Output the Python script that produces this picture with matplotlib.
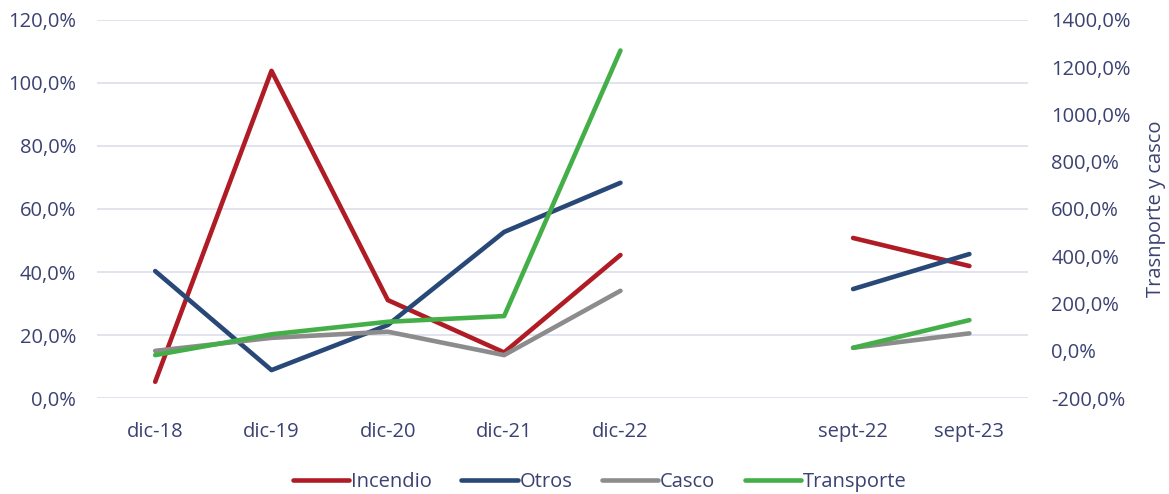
import numpy as np
import matplotlib.pyplot as plt
from matplotlib.ticker import FuncFormatter

plt.rcParams['font.family'] = ['Open Sans', 'DejaVu Sans']

labels = ["dic-18", "dic-19", "dic-20", "dic-21", "dic-22", "", "sept-22", "sept-23"]

# left axis (%)
incendio = [5.2, 103.8, 31.1, 14.5, 45.4, np.nan, 50.8, 41.9]
otros = [40.3, 8.9, 23.2, 52.7, 68.3, np.nan, 34.6, 45.7]
# right axis (%)
casco = [0, 55, 81, -18, 254, np.nan, 13, 74]
transporte = [-18, 70, 123, 147, 1270, np.nan, 13, 130]

txt = "#3B4272"
grid = "#DCDFEC"
fs = 14.5

fig = plt.figure(figsize=(11.69, 4.94), dpi=100)
ax = fig.add_axes([0.083, 0.194, 0.796, 0.766])
ax2 = ax.twinx()

x = np.arange(len(labels))
lw = 3.3
style = dict(lw=lw, solid_capstyle="round", solid_joinstyle="round")
ax.plot(x, incendio, color="#B01C25", label="Incendio", **style)
ax.plot(x, otros, color="#284878", label="Otros", **style)
ax2.plot(x, casco, color="#8C8C8C", label="Casco", **style)
ax2.plot(x, transporte, color="#44AF48", label="Transporte", **style)

ax.set_xlim(-0.5, len(labels) - 0.5)
ax.set_ylim(0, 120)
ax.set_yticks(np.arange(0, 121, 20))
ax2.set_ylim(-200, 1400)
ax2.set_yticks(np.arange(-200, 1401, 200))

fmt = FuncFormatter(lambda v, p: f"{v:.1f}".replace(".", ",") + "%")
ax.yaxis.set_major_formatter(fmt)
ax2.yaxis.set_major_formatter(fmt)

ax.set_xticks(x)
ax.set_xticklabels(labels)
ax.grid(axis="y", color=grid, lw=1.2)
ax.set_axisbelow(True)

for a in (ax, ax2):
    for s in a.spines.values():
        s.set_visible(False)
    a.tick_params(length=0, labelsize=fs, colors=txt)
ax.tick_params(axis="x", pad=17)
ax.tick_params(axis="y", pad=15)
ax2.tick_params(axis="y", pad=17)

ax2.set_ylabel("Trasnporte y casco", color=txt, fontsize=fs, labelpad=11)

h1, l1 = ax.get_legend_handles_labels()
h2, l2 = ax2.get_legend_handles_labels()
fig.legend(h1 + h2, l1 + l2, loc="center", bbox_to_anchor=(0.513, 0.024), ncol=4,
           frameon=False, fontsize=fs, labelcolor=txt, handlelength=2.8,
           handletextpad=0.1, columnspacing=1.45)

fig.savefig("out.png", dpi=100)
